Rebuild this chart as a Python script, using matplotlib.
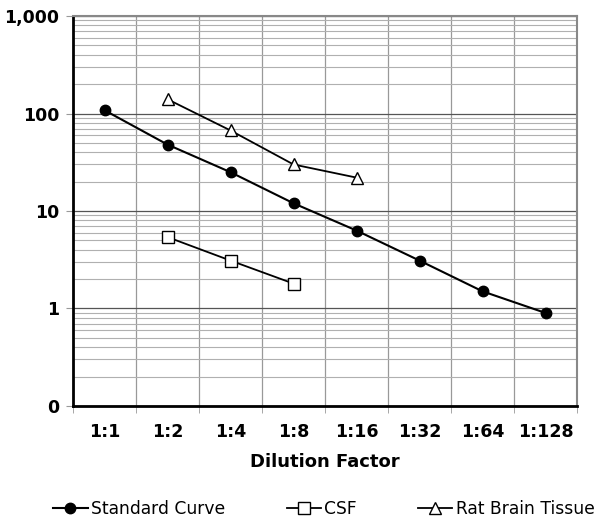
import matplotlib
matplotlib.use("Agg")
import matplotlib.pyplot as plt
import numpy as np
from matplotlib.ticker import FixedLocator, NullFormatter, LogLocator

categories = ["1:1", "1:2", "1:4", "1:8", "1:16", "1:32", "1:64", "1:128"]
standard_curve = [108, 48, 25, 12, 6.3, 3.1, 1.5, 0.9]
csf_idx = [1, 2, 3]
csf = [5.4, 3.1, 1.8]
rat_idx = [1, 2, 3, 4]
rat_brain = [140, 67, 30, 22]
ytick_vals = [0.1, 1, 10, 100, 1000]
ytick_labels = ["0", "1", "10", "100", "1,000"]

plt.rcParams['font.family'] = ['DejaVu Sans']
fig = plt.figure(figsize=(6, 5.25), dpi=100)
ax = fig.add_axes([0.1217, 0.2267, 0.8400, 0.7428])

x = np.arange(len(categories))
ax.plot(x, standard_curve, color='black', lw=1.5, marker='o', ms=7.5,
        mfc='black', mec='black', label='Standard Curve', zorder=5)
ax.plot(csf_idx, csf, color='black', lw=1.3, marker='s', ms=8,
        mfc='white', mec='black', mew=1.0, label='CSF', zorder=5)
ax.plot(rat_idx, rat_brain, color='black', lw=1.3, marker='^', ms=9,
        mfc='white', mec='black', mew=1.0, label='Rat Brain Tissue', zorder=5)

ax.set_yscale('log')
ax.set_ylim(0.1, 1000)
ax.set_xlim(-0.5, len(categories) - 0.5)

ax.yaxis.set_major_locator(FixedLocator(ytick_vals))
ax.set_yticklabels(ytick_labels, fontweight='bold', fontsize=12.5)
ax.yaxis.set_minor_locator(LogLocator(base=10, subs=np.arange(2, 10)))
ax.yaxis.set_minor_formatter(NullFormatter())

ax.set_xticks(x)
ax.set_xticklabels(categories, fontweight='bold', fontsize=12.5)
ax.set_xticks(np.arange(len(categories) + 1) - 0.5, minor=True)
ax.tick_params(axis='x', which='major', length=0, pad=12)
ax.tick_params(axis='x', which='minor', length=5, color='#999999', direction='out')
ax.tick_params(axis='y', which='major', length=5, color='#999999', direction='out', pad=5)
ax.tick_params(axis='y', which='minor', length=0)

ax.grid(True, axis='y', which='major', color='#555555', lw=0.9)
ax.grid(True, axis='y', which='minor', color='#b0b0b0', lw=0.8)
ax.grid(True, axis='x', which='minor', color='#999999', lw=0.9)
ax.grid(False, axis='x', which='major')
ax.set_axisbelow(True)

ax.spines['left'].set_color('black')
ax.spines['left'].set_linewidth(2)
ax.spines['bottom'].set_color('black')
ax.spines['bottom'].set_linewidth(2)
ax.spines['top'].set_color('#888888')
ax.spines['top'].set_linewidth(1.5)
ax.spines['right'].set_color('#888888')
ax.spines['right'].set_linewidth(1.5)

ax.set_xlabel("Dilution Factor", fontweight='bold', fontsize=13, labelpad=9)

handles, labels = ax.get_legend_handles_labels()
fig.legend(handles, labels, loc='lower center', bbox_to_anchor=(0.54, -0.016),
           ncol=3, frameon=False, fontsize=12.3, handlelength=2.0,
           handletextpad=0.2, columnspacing=3.6)

fig.savefig("out.png", dpi=100)
